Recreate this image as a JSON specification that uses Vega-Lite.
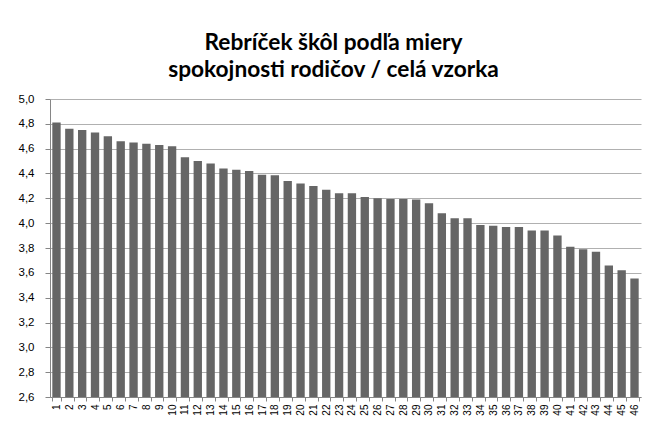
{
  "$schema": "https://vega.github.io/schema/vega-lite/v6.json",
  "width": 591,
  "height": 298,
  "autosize": {"type": "none"},
  "padding": {"left": 50, "top": 99, "right": 6, "bottom": 26},
  "background": "white",
  "title": {
    "text": ["Rebríček škôl podľa miery", "spokojnosti rodičov / celá vzorka"],
    "font": "Lato",
    "fontSize": 22.7,
    "fontWeight": "bold",
    "color": "black",
    "lineHeight": 27.6,
    "anchor": "middle",
    "frame": "group",
    "offset": 11,
    "dx": -12
  },
  "data": {
    "values": [
      {"rank": 1, "value": 4.81},
      {"rank": 2, "value": 4.76},
      {"rank": 3, "value": 4.75},
      {"rank": 4, "value": 4.73},
      {"rank": 5, "value": 4.70},
      {"rank": 6, "value": 4.66},
      {"rank": 7, "value": 4.65},
      {"rank": 8, "value": 4.64},
      {"rank": 9, "value": 4.63},
      {"rank": 10, "value": 4.62},
      {"rank": 11, "value": 4.53},
      {"rank": 12, "value": 4.50},
      {"rank": 13, "value": 4.48},
      {"rank": 14, "value": 4.44},
      {"rank": 15, "value": 4.43},
      {"rank": 16, "value": 4.42},
      {"rank": 17, "value": 4.39},
      {"rank": 18, "value": 4.385},
      {"rank": 19, "value": 4.34},
      {"rank": 20, "value": 4.32},
      {"rank": 21, "value": 4.30},
      {"rank": 22, "value": 4.27},
      {"rank": 23, "value": 4.24},
      {"rank": 24, "value": 4.24},
      {"rank": 25, "value": 4.21},
      {"rank": 26, "value": 4.20},
      {"rank": 27, "value": 4.195},
      {"rank": 28, "value": 4.195},
      {"rank": 29, "value": 4.19},
      {"rank": 30, "value": 4.16},
      {"rank": 31, "value": 4.08},
      {"rank": 32, "value": 4.04},
      {"rank": 33, "value": 4.04},
      {"rank": 34, "value": 3.985},
      {"rank": 35, "value": 3.98},
      {"rank": 36, "value": 3.97},
      {"rank": 37, "value": 3.97},
      {"rank": 38, "value": 3.94},
      {"rank": 39, "value": 3.94},
      {"rank": 40, "value": 3.90},
      {"rank": 41, "value": 3.81},
      {"rank": 42, "value": 3.79},
      {"rank": 43, "value": 3.77},
      {"rank": 44, "value": 3.66},
      {"rank": 45, "value": 3.62},
      {"rank": 46, "value": 3.555}
    ]
  },
  "mark": {"type": "bar", "color": "#666666", "clip": true},
  "encoding": {
    "x": {
      "field": "rank",
      "type": "ordinal",
      "sort": null,
      "scale": {"paddingInner": 0.35, "paddingOuter": 0.18},
      "axis": {
        "title": null,
        "labelAngle": -90,
        "tickBand": "extent",
        "grid": false,
        "domainColor": "#868686",
        "tickColor": "#868686",
        "tickSize": 4,
        "labelPadding": 3,
        "labelFont": "Liberation Sans",
        "labelFontSize": 10,
        "labelColor": "black"
      }
    },
    "y": {
      "field": "value",
      "type": "quantitative",
      "scale": {"domain": [2.6, 5.0], "zero": false, "nice": false},
      "axis": {
        "title": null,
        "values": [2.6, 2.8, 3.0, 3.2, 3.4, 3.6, 3.8, 4.0, 4.2, 4.4, 4.6, 4.8, 5.0],
        "labelExpr": "replace(format(datum.value, '.1f'), '.', ',')",
        "domainColor": "#868686",
        "tickColor": "#868686",
        "tickSize": 5,
        "labelPadding": 11,
        "labelFont": "Liberation Sans",
        "labelFontSize": 11.5,
        "labelColor": "black",
        "gridColor": "#b0b0b0"
      }
    }
  },
  "config": {"view": {"stroke": null}}
}
